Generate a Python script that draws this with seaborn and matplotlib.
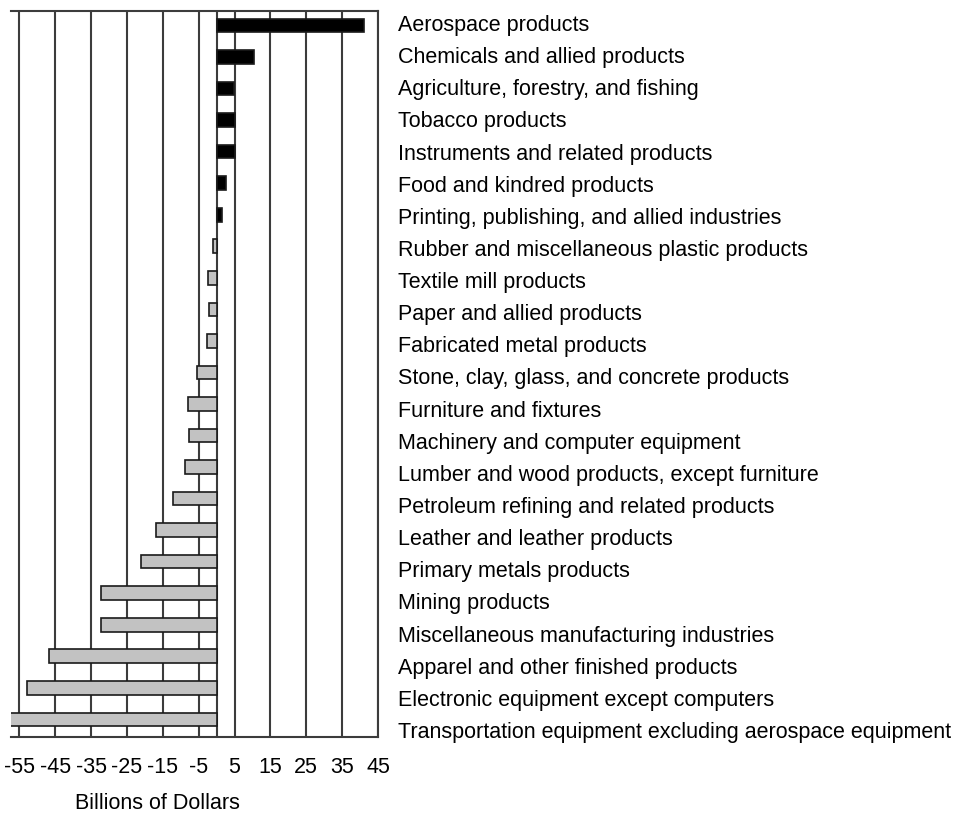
import matplotlib
matplotlib.use("Agg")
import matplotlib.pyplot as plt
import seaborn as sns
import pandas as pd

industries = [
    "Aerospace products",
    "Chemicals and allied products",
    "Agriculture, forestry, and fishing",
    "Tobacco products",
    "Instruments and related products",
    "Food and kindred products",
    "Printing, publishing, and allied industries",
    "Rubber and miscellaneous plastic products",
    "Textile mill products",
    "Paper and allied products",
    "Fabricated metal products",
    "Stone, clay, glass, and concrete products",
    "Furniture and fixtures",
    "Machinery and computer equipment",
    "Lumber and wood products, except furniture",
    "Petroleum refining and related products",
    "Leather and leather products",
    "Primary metals products",
    "Mining products",
    "Miscellaneous manufacturing industries",
    "Apparel and other finished products",
    "Electronic equipment except computers",
    "Transportation equipment excluding aerospace equipment",
]
balance = [41.0, 10.5, 4.8, 5.0, 5.0, 2.6, 1.4, -1.1, -2.3, -2.2, -2.8,
           -5.4, -7.9, -7.7, -8.8, -12.1, -17.0, -21.2, -32.2, -32.2,
           -46.8, -52.9, -60.0]
x_ticks = [-55, -45, -35, -25, -15, -5, 5, 15, 25, 35, 45]

df = pd.DataFrame({"industry": industries, "balance": balance})
df["sign"] = ["surplus" if v > 0 else "deficit" for v in df["balance"]]

sns.set_style("white")
plt.rcParams["font.family"] = ["Liberation Sans", "DejaVu Sans"]
plt.rcParams["text.color"] = "black"
plt.rcParams["xtick.color"] = "black"
plt.rcParams["ytick.color"] = "black"
plt.rcParams["axes.labelcolor"] = "black"

FS = 15.5
GRID = "#3c3c3c"

fig = plt.figure(figsize=(9.66, 8.14), dpi=100)
ax = fig.add_axes([11 / 966, 77 / 814, 367 / 966, 726 / 814])

sns.barplot(data=df, x="balance", y="industry", hue="sign",
            palette={"surplus": "black", "deficit": "#c2c2c2"},
            dodge=False, width=0.43, edgecolor="#1a1a1a", linewidth=1.2,
            legend=False, ax=ax, zorder=3)

ax.set_xlim(-57.3, 45)
ax.set_ylim(len(industries) - 0.44, -0.46)
ax.set_xticks(x_ticks)
ax.set_xticklabels([str(t) for t in x_ticks], fontsize=FS)
ax.tick_params(axis="x", direction="inout", length=16, width=1.4,
               color=GRID, pad=6.5)

ax.grid(axis="x", color=GRID, linewidth=1.5, zorder=0)
ax.set_axisbelow(True)
ax.axvline(0, color=GRID, linewidth=1.5, zorder=2)

# category names sit in their own column to the right of the frame
lab = ax.twinx()
lab.set_ylim(len(industries) - 0.782, -0.373)
lab.set_yticks(range(len(industries)))
lab.set_yticklabels(industries, fontsize=FS)
lab.tick_params(axis="y", left=False, right=False, length=0, pad=14.4)
lab.grid(False)
for s in lab.spines.values():
    s.set_visible(False)

ax.tick_params(axis="y", left=False, right=False,
               labelleft=False, labelright=False)
ax.set_ylabel("")

ax.set_xlabel("Billions of Dollars", fontsize=FS)
ax.xaxis.set_label_coords(0.398, -0.0765)

ax.spines["left"].set_visible(False)
for side in ("top", "right", "bottom"):
    ax.spines[side].set_color(GRID)
    ax.spines[side].set_linewidth(1.5)

fig.savefig("out.png", dpi=100)
